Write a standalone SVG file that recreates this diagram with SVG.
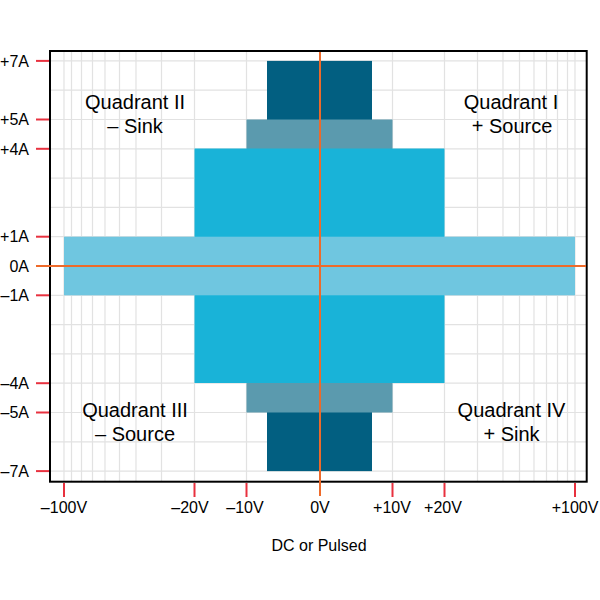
<svg xmlns="http://www.w3.org/2000/svg" width="600" height="600" viewBox="0 0 600 600">
<style>
.grid line{stroke:#e2e2e2;stroke-width:1.2}
.tick{stroke:#e8313f;stroke-width:2}
.axis{stroke:#ee6a2a;stroke-width:2}
text{font-family:"Liberation Sans",Arial,sans-serif;fill:#000}
.yl{font-size:16px;text-anchor:end}
.xl{font-size:16px;text-anchor:middle}
.q{font-size:20px;text-anchor:middle}
</style>
<rect width="600" height="600" fill="#fff"/>
<g id="grid" class="grid">
<line x1="64" y1="51" x2="64" y2="482"/>
<line x1="71.5" y1="51" x2="71.5" y2="482"/>
<line x1="81.5" y1="51" x2="81.5" y2="482"/>
<line x1="92.5" y1="51" x2="92.5" y2="482"/>
<line x1="105" y1="51" x2="105" y2="482"/>
<line x1="119.5" y1="51" x2="119.5" y2="482"/>
<line x1="136" y1="51" x2="136" y2="482"/>
<line x1="161.5" y1="51" x2="161.5" y2="482"/>
<line x1="194.5" y1="51" x2="194.5" y2="482"/>
<line x1="246.5" y1="51" x2="246.5" y2="482"/>
<line x1="392.5" y1="51" x2="392.5" y2="482"/>
<line x1="444.5" y1="51" x2="444.5" y2="482"/>
<line x1="477.5" y1="51" x2="477.5" y2="482"/>
<line x1="503" y1="51" x2="503" y2="482"/>
<line x1="519.5" y1="51" x2="519.5" y2="482"/>
<line x1="534" y1="51" x2="534" y2="482"/>
<line x1="546.5" y1="51" x2="546.5" y2="482"/>
<line x1="557.5" y1="51" x2="557.5" y2="482"/>
<line x1="567.5" y1="51" x2="567.5" y2="482"/>
<line x1="575" y1="51" x2="575" y2="482"/>
<line x1="50" y1="60.9" x2="587" y2="60.9"/>
<line x1="50" y1="90.2" x2="587" y2="90.2"/>
<line x1="50" y1="119.5" x2="587" y2="119.5"/>
<line x1="50" y1="148.8" x2="587" y2="148.8"/>
<line x1="50" y1="178.1" x2="587" y2="178.1"/>
<line x1="50" y1="207.4" x2="587" y2="207.4"/>
<line x1="50" y1="236.7" x2="587" y2="236.7"/>
<line x1="50" y1="295.3" x2="587" y2="295.3"/>
<line x1="50" y1="324.6" x2="587" y2="324.6"/>
<line x1="50" y1="353.9" x2="587" y2="353.9"/>
<line x1="50" y1="383.2" x2="587" y2="383.2"/>
<line x1="50" y1="412.5" x2="587" y2="412.5"/>
<line x1="50" y1="441.8" x2="587" y2="441.8"/>
<line x1="50" y1="471.1" x2="587" y2="471.1"/>
</g>
<g id="regions">
<rect id="pulsed7A" x="267" y="60.9" width="105" height="410.2" fill="#025f81"/>
<rect id="range5A" x="246.5" y="119.5" width="146" height="293" fill="#5b9aae"/>
<rect id="range4A" x="194.5" y="148.5" width="250" height="234.5" fill="#19b3d8"/>
<rect id="range1A" x="64" y="236.7" width="511" height="58.6" fill="#6fc6e0"/>
</g>
<g id="ticks">
<line class="tick" x1="36" y1="60.9" x2="50" y2="60.9"/>
<line class="tick" x1="36" y1="119.5" x2="50" y2="119.5"/>
<line class="tick" x1="36" y1="148.8" x2="50" y2="148.8"/>
<line class="tick" x1="36" y1="236.7" x2="50" y2="236.7"/>
<line class="tick" x1="36" y1="295.3" x2="50" y2="295.3"/>
<line class="tick" x1="36" y1="383.2" x2="50" y2="383.2"/>
<line class="tick" x1="36" y1="412.5" x2="50" y2="412.5"/>
<line class="tick" x1="36" y1="471.1" x2="50" y2="471.1"/>
<line class="tick" x1="64" y1="483" x2="64" y2="497"/>
<line class="tick" x1="194.5" y1="483" x2="194.5" y2="497"/>
<line class="tick" x1="246.5" y1="483" x2="246.5" y2="497"/>
<line class="tick" x1="392.5" y1="483" x2="392.5" y2="497"/>
<line class="tick" x1="444.5" y1="483" x2="444.5" y2="497"/>
<line class="tick" x1="575" y1="483" x2="575" y2="497"/>
</g>
<rect id="frame" x="50" y="51" width="536.7" height="430.7" fill="none" stroke="#000" stroke-width="2"/>
<g id="axes">
<line class="axis" x1="36" y1="266" x2="586" y2="266"/>
<line class="axis" x1="320" y1="52" x2="320" y2="496"/>
</g>
<g id="ylabels">
<text class="yl" x="29" y="66.6">+7A</text>
<text class="yl" x="29" y="125.2">+5A</text>
<text class="yl" x="29" y="154.5">+4A</text>
<text class="yl" x="29" y="242.4">+1A</text>
<text class="yl" x="29" y="271.7">0A</text>
<text class="yl" x="29" y="301">–1A</text>
<text class="yl" x="29" y="388.9">–4A</text>
<text class="yl" x="29" y="418.2">–5A</text>
<text class="yl" x="29" y="476.8">–7A</text>
</g>
<g id="xlabels">
<text class="xl" x="64" y="512.5">–100V</text>
<text class="xl" x="190" y="512.5">–20V</text>
<text class="xl" x="245" y="512.5">–10V</text>
<text class="xl" x="320" y="512.5">0V</text>
<text class="xl" x="392" y="512.5">+10V</text>
<text class="xl" x="443" y="512.5">+20V</text>
<text class="xl" x="575" y="512.5">+100V</text>
<text class="xl" x="319" y="550.7">DC or Pulsed</text>
</g>
<g id="quadrant1"><text class="q" x="511" y="109">Quadrant I</text><text class="q" x="512" y="132.5">+ Source</text></g>
<g id="quadrant2"><text class="q" x="135" y="109">Quadrant II</text><text class="q" x="135" y="132.5">– Sink</text></g>
<g id="quadrant3"><text class="q" x="135" y="416.5">Quadrant III</text><text class="q" x="135" y="440.5">– Source</text></g>
<g id="quadrant4"><text class="q" x="511.5" y="416.5">Quadrant IV</text><text class="q" x="511.5" y="440.5">+ Sink</text></g>
</svg>
